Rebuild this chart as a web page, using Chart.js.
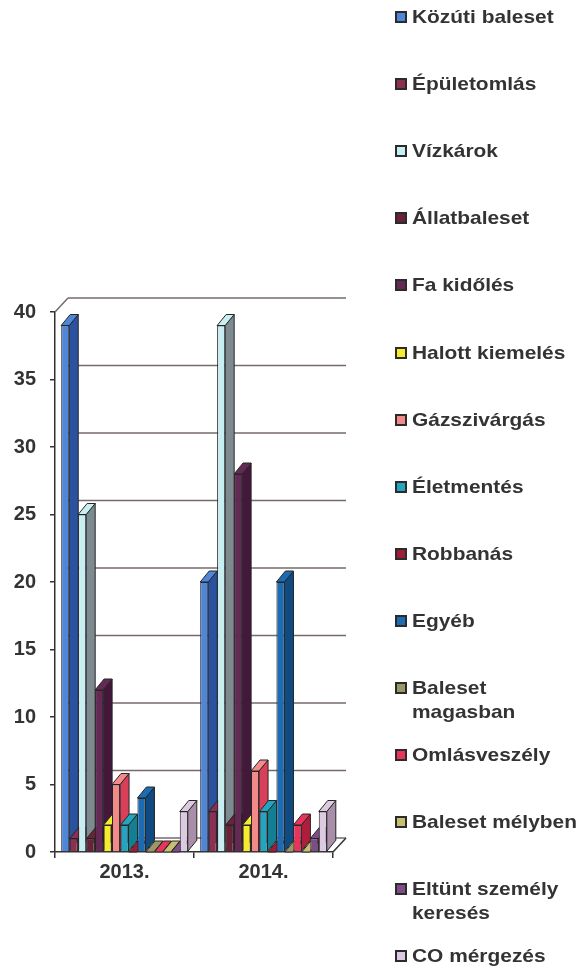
<!DOCTYPE html>
<html>
<head>
<meta charset="utf-8">
<script src="https://cdn.jsdelivr.net/npm/chart.js@4.4.1/dist/chart.umd.min.js"></script>
<style>
  html, body { margin: 0; padding: 0; background: #fff; }
  #wrap { position: relative; width: 579px; height: 969px; overflow: hidden; }
  #chart { position: absolute; left: 0; top: 0; }
  #legend { position: absolute; left: 0; top: 0; width: 579px; height: 969px; }
  .item { position: absolute; left: 395px; font: bold 19px "Liberation Sans", Arial, sans-serif; color: #333; line-height: 24px; }
  .box { position: absolute; left: 0; top: 6px; width: 8px; height: 8px; border: 2px solid #2b2b2b; }
  .txt { position: absolute; left: 17px; top: 0; white-space: pre; transform: scaleX(1.1); transform-origin: 0 0; }
</style>
</head>
<body>
<div id="wrap">
  <canvas id="chart" width="579" height="969"></canvas>
  <div id="legend"></div>
</div>
<script>
// adatok
const categories = ['2013.', '2014.'];
const seriesNames = [
  'Közúti baleset', 'Épületomlás', 'Vízkárok', 'Állatbaleset', 'Fa kidőlés',
  'Halott kiemelés', 'Gázszivárgás', 'Életmentés', 'Robbanás', 'Egyéb',
  'Baleset magasban', 'Omlásveszély', 'Baleset mélyben', 'Eltünt személy keresés', 'CO mérgezés'
];
const values2013 = [39, 1, 25, 1, 12, 2, 5, 2, 0, 4, 0, 0, 0, 0, 3];
const values2014 = [20, 3, 39, 2, 28, 2, 6, 3, 0, 20, 0, 2, 0, 1, 3];
const yMax = 40;
const yStep = 5;

// színek (elülső lap / oldallap)
const frontColors = [
  '#4f86d8', '#8c2f50', '#c9eef2', '#6a2238', '#642a55',
  '#f4ec2c', '#f28a8a', '#22a6c0', '#9c1c3a', '#1c6cb4',
  '#9a9868', '#e8345a', '#c4c070', '#7e4c86', '#dccbe0'
];
const sideColors = [
  '#2b52a0', '#5e1c34', '#7d8a90', '#421425', '#44183a',
  '#b8a818', '#d8405a', '#137f92', '#6a1026', '#0f4a82',
  '#6e6c48', '#b01c3c', '#8e8a48', '#55305c', '#a88ea8'
];

const DX = 9, DY = 11;        // oszlop mélység
const WX = 13, WY = 14;       // hátfal eltolás
const FONT = '"Liberation Sans", Arial, sans-serif';

// 3D hatás: hátfal rácsvonalai, oszlopok oldala és teteje
const depthPlugin = {
  id: 'depth',
  beforeDatasetsDraw(chart) {
    const ctx = chart.ctx;
    const area = chart.chartArea;
    const ys = chart.scales.y;
    ctx.save();
    ctx.strokeStyle = '#786a6b';
    ctx.lineWidth = 1.5;
    ys.ticks.forEach(t => {
      const py = ys.getPixelForValue(t.value);
      ctx.beginPath();
      ctx.moveTo(area.left + WX, py - WY);
      ctx.lineTo(area.right + WX, py - WY);
      ctx.stroke();
    });
    ctx.beginPath();
    ctx.moveTo(area.left, area.top);
    ctx.lineTo(area.left + WX, area.top - WY);
    ctx.stroke();
    ctx.strokeStyle = '#333';
    ctx.beginPath();
    ctx.moveTo(area.right, area.bottom);
    ctx.lineTo(area.right + WX, area.bottom - WY);
    ctx.stroke();

    ctx.lineWidth = 1;
    ctx.strokeStyle = '#262626';
    chart.data.datasets.forEach((ds, i) => {
      const meta = chart.getDatasetMeta(i);
      meta.data.forEach(bar => {
        const p = bar.getProps(['x', 'y', 'base', 'width'], true);
        const l = p.x - p.width / 2, r = p.x + p.width / 2;
        // oldallap
        ctx.fillStyle = sideColors[i];
        ctx.beginPath();
        ctx.moveTo(r, p.y);
        ctx.lineTo(r + DX, p.y - DY);
        ctx.lineTo(r + DX, p.base - DY);
        ctx.lineTo(r, p.base);
        ctx.closePath();
        ctx.fill();
        ctx.stroke();
        // tető
        ctx.fillStyle = frontColors[i];
        ctx.beginPath();
        ctx.moveTo(l, p.y);
        ctx.lineTo(l + DX, p.y - DY);
        ctx.lineTo(r + DX, p.y - DY);
        ctx.lineTo(r, p.y);
        ctx.closePath();
        ctx.fill();
        ctx.stroke();
      });
    });
    ctx.restore();
  }
};

const chart = new Chart(document.getElementById('chart'), {
  type: 'bar',
  data: {
    labels: categories,
    datasets: seriesNames.map((name, i) => ({
      label: name,
      data: [values2013[i], values2014[i]],
      backgroundColor: frontColors[i],
      borderColor: '#262626',
      borderWidth: 1,
      categoryPercentage: 0.914,
      barPercentage: 0.95
    }))
  },
  options: {
    responsive: false,
    animation: false,
    devicePixelRatio: 1,
    layout: { padding: { top: 312, right: 246, left: 0, bottom: 0 } },
    plugins: { legend: { display: false }, tooltip: { enabled: false } },
    scales: {
      x: {
        afterFit(scale) { scale.height = 117; },
        grid: { drawOnChartArea: false, tickLength: 6, color: '#333', lineWidth: 1.5 },
        border: { color: '#333', width: 1.5 },
        ticks: { color: '#333', padding: 2, font: { family: FONT, size: 20, weight: 'bold' } }
      },
      y: {
        min: 0,
        max: yMax,
        afterFit(scale) { scale.width = 55; },
        grid: { drawOnChartArea: false, tickLength: 5, color: '#333', lineWidth: 1.5 },
        border: { color: '#333', width: 1.5 },
        ticks: { stepSize: yStep, color: '#333', padding: 14, font: { family: FONT, size: 20, weight: 'bold' } }
      }
    }
  },
  plugins: [depthPlugin]
});

// jelmagyarázat
const legendBox = document.getElementById('legend');
chart.data.datasets.forEach((ds, i) => {
  let text = ds.label;
  if (text.length > 15) {
    const k = text.lastIndexOf(' ');
    text = text.slice(0, k) + '\n' + text.slice(k + 1);
  }
  const item = document.createElement('div');
  item.className = 'item';
  item.style.top = (17 + i * 67.1 - 12) + 'px';
  const box = document.createElement('div');
  box.className = 'box';
  box.style.background = ds.backgroundColor;
  const txt = document.createElement('div');
  txt.className = 'txt';
  txt.textContent = text;
  item.appendChild(box);
  item.appendChild(txt);
  legendBox.appendChild(item);
});
</script>
</body>
</html>
